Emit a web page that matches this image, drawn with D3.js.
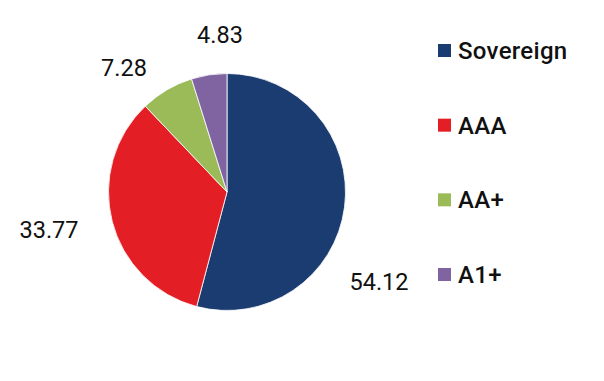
<!DOCTYPE html>
<html><head><meta charset="utf-8">
<script src="https://cdnjs.cloudflare.com/ajax/libs/d3/7.8.5/d3.min.js"></script>
<style>html,body{margin:0;padding:0;background:#fff;}svg{display:block;font-family:Roboto,"Noto Sans",sans-serif;}</style>
</head><body><svg id="c" width="604" height="381"></svg>
<script>
const categories = ["Sovereign", "AAA", "AA+", "A1+"];
const values = [54.12, 33.77, 7.28, 4.83];
const colors = ["#1b3c71", "#e31e24", "#9bbb59", "#8064a2"];
// label anchor offsets from pie centre (layout only)
const labelOffsets = [[152, 98], [-178, 46], [-103, -116], [-7, -149]];

const svg = d3.select("#c");
const cx = 227, cy = 192, R = 118.5;
const g = svg.append("g").attr("transform", `translate(${cx},${cy})`);
const pie = d3.pie().sort(null).value(d => d)(values);
const arc = d3.arc().innerRadius(0).outerRadius(R);
g.selectAll("path").data(pie).join("path")
  .attr("d", arc).attr("fill", (d, i) => colors[i])
  .attr("stroke", "#fff").attr("stroke-width", 0.8);

g.selectAll("text.lbl").data(pie).join("text").attr("class", "lbl")
  .attr("x", (d, i) => labelOffsets[i][0]).attr("y", (d, i) => labelOffsets[i][1])
  .attr("text-anchor", "middle").attr("font-size", 23.5).attr("fill", "#111")
  .text(d => d.data.toFixed(2));

const legY = d3.scalePoint().domain(categories).range([59, 283]);
const leg = svg.append("g");
const items = leg.selectAll("g").data(categories).join("g")
  .attr("transform", d => `translate(438,${legY(d)})`);
items.append("rect").attr("x", 0).attr("y", -15).attr("width", 13).attr("height", 13)
  .attr("fill", (d, i) => colors[i]);
items.append("text").attr("x", 20).attr("y", 0).attr("font-size", 24).attr("font-weight", 500)
  .attr("letter-spacing", 0.3).attr("fill", "#111").text(d => d);
</script></body></html>
